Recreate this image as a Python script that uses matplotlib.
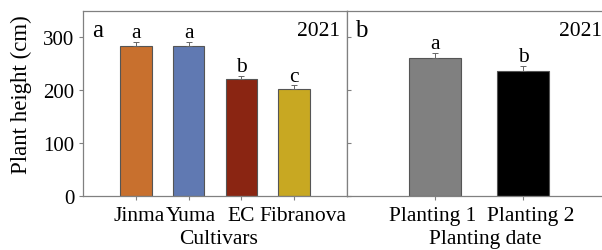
import matplotlib
matplotlib.use("Agg")
import matplotlib.pyplot as plt
from matplotlib.transforms import ScaledTranslation

cultivars = ["Jinma", "Yuma", "EC", "Fibranova"]
cult_height = [284, 283, 221, 203]
cult_err = [8, 8, 7, 6.5]
cult_letters = ["a", "a", "b", "c"]
cult_colors = ["#C8702E", "#6079B2", "#8A2512", "#C8A822"]

dates = ["Planting 1", "Planting 2"]
date_height = [261, 237]
date_err = [10, 10]
date_letters = ["a", "b"]
date_colors = ["#808080", "#000000"]

plt.rcParams["font.family"] = ["Liberation Serif", "DejaVu Serif"]
fig = plt.figure(figsize=(6.02, 2.51), dpi=100)
W, H = 602, 251
axh = (197.3 - 12) / H
bot = 1 - 197.3 / H
ax1 = fig.add_axes([83 / W, bot, 264 / W, axh])
ax2 = fig.add_axes([347 / W, bot, 264 / W, axh])

spine_c = "#808080"
FS = 15.5

def style(ax):
    for s in ax.spines.values():
        s.set_color(spine_c)
        s.set_linewidth(0.9)
    ax.set_ylim(0, 350)
    ax.set_yticks([0, 100, 200, 300])
    ax.tick_params(axis="both", colors=spine_c, labelcolor="black", labelsize=FS, length=3)
    ax.tick_params(axis="y", labelsize=15)

for ax, labels, vals, errs, lets, cols in [
    (ax1, cultivars, cult_height, cult_err, cult_letters, cult_colors),
    (ax2, dates, date_height, date_err, date_letters, date_colors),
]:
    style(ax)
    x = list(range(len(labels)))
    ax.bar(x, vals, width=0.6, color=cols, edgecolor="#555555", linewidth=0.8, zorder=2)
    ax.errorbar(x, vals, yerr=[[0] * len(errs), errs], fmt="none", ecolor="#666666",
                elinewidth=0.7, capsize=2.5, capthick=0.7, zorder=3)
    for xi, v, e, l in zip(x, vals, errs, lets):
        ax.text(xi, v + e + 9, l, ha="center", va="baseline", fontsize=FS)
    ax.set_xlim(-1, len(labels))
    ax.set_xticks(x)
    ax.set_xticklabels(labels)

ax1.tick_params(axis="x", pad=4)
ax2.tick_params(axis="x", pad=4)
ax1.tick_params(axis="y", right=True, direction="out", pad=3)
ax2.tick_params(axis="y", left=True, direction="in", labelleft=False)

# small horizontal offsets of tick labels as in the reference (pixels)
shifts1 = [3, 2, 0, 9]
shifts2 = [-2, 8]
for ax, shifts in [(ax1, shifts1), (ax2, shifts2)]:
    for lab, dx in zip(ax.get_xticklabels(), shifts):
        lab.set_transform(lab.get_transform() + ScaledTranslation(dx / 100, 0, fig.dpi_scale_trans))

ax1.set_ylabel("Plant height (cm)", fontsize=16.5)
ax1.yaxis.set_label_coords(-0.192, 0.552)
ax1.set_xlabel("Cultivars", fontsize=FS)
ax1.xaxis.set_label_coords(0.515, -0.175)
ax2.set_xlabel("Planting date", fontsize=FS)
ax2.xaxis.set_label_coords(0.525, -0.175)

ax1.text(0.035, 0.955, "a", transform=ax1.transAxes, ha="left", va="top", fontsize=18)
ax1.text(0.975, 0.945, "2021", transform=ax1.transAxes, ha="right", va="top", fontsize=FS)
ax2.text(0.03, 0.955, "b", transform=ax2.transAxes, ha="left", va="top", fontsize=18)
ax2.text(0.965, 0.945, "2021", transform=ax2.transAxes, ha="right", va="top", fontsize=FS)

fig.savefig("out.png", dpi=100)
